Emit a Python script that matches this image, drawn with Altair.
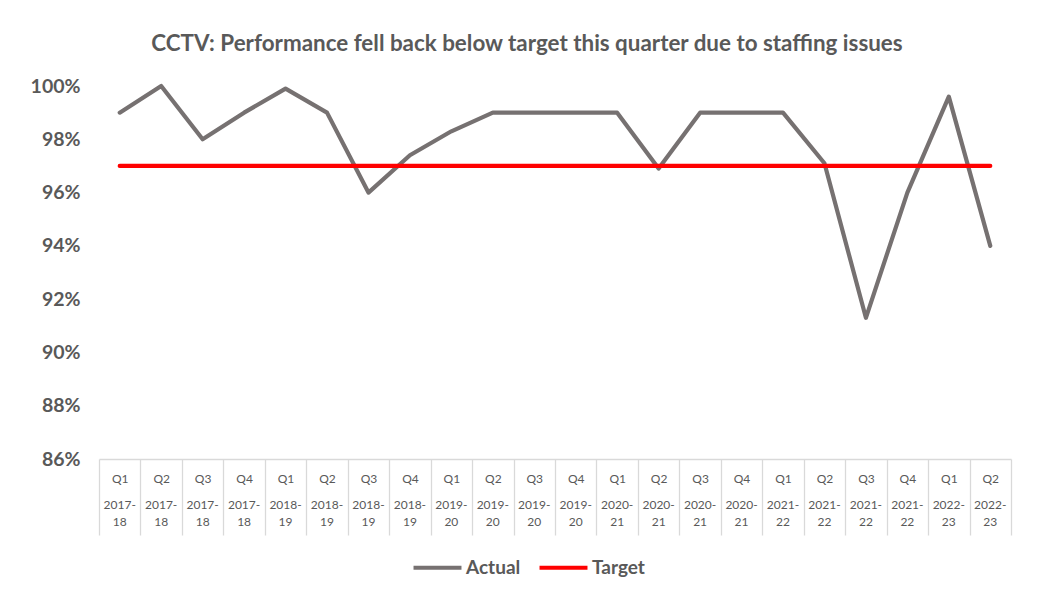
import altair as alt
import pandas as pd

quarters = ["Q1", "Q2", "Q3", "Q4", "Q1", "Q2", "Q3", "Q4", "Q1", "Q2", "Q3",
            "Q4", "Q1", "Q2", "Q3", "Q4", "Q1", "Q2", "Q3", "Q4", "Q1", "Q2"]
years = ["2017-18", "2017-18", "2017-18", "2017-18", "2018-19", "2018-19",
         "2018-19", "2018-19", "2019-20", "2019-20", "2019-20", "2019-20",
         "2020-21", "2020-21", "2020-21", "2020-21", "2021-22", "2021-22",
         "2021-22", "2021-22", "2022-23", "2022-23"]
actual = [0.990, 1.000, 0.980, 0.990, 0.999, 0.990, 0.960, 0.974, 0.983, 0.990,
          0.990, 0.990, 0.990, 0.969, 0.990, 0.990, 0.990, 0.971, 0.913, 0.960,
          0.996, 0.940]
target = [0.97] * 22

periods = [f"{q} {y}" for q, y in zip(quarters, years)]
rows = []
for p, a in zip(periods, actual):
    rows.append({"period": p, "series": "Actual", "value": a})
for p, t in zip(periods, target):
    rows.append({"period": p, "series": "Target", "value": t})
df = pd.DataFrame(rows)

FONT = "Lato"
GREY_TXT = "#595959"

q_expr = "isValid(datum.value) ? split(datum.value, ' ')[0] : ''"
y_expr = ("isValid(datum.value) ? [split(split(datum.value, ' ')[1], '-')[0] + '-', "
          "split(split(datum.value, ' ')[1], '-')[1]] : ''")

xscale = alt.Scale(paddingInner=0, paddingOuter=0)
yenc = alt.Y("value:Q", title=None,
             scale=alt.Scale(domain=[0.86, 1.0], nice=False, zero=False),
             axis=alt.Axis(format=".0%", values=[0.86, 0.88, 0.90, 0.92, 0.94, 0.96, 0.98, 1.0],
                           grid=False, domain=False, ticks=False, labelFont=FONT,
                           labelFontSize=19.5, labelFontWeight="bold", labelColor=GREY_TXT,
                           labelPadding=19))
cenc = alt.Color("series:N", title=None,
                 scale=alt.Scale(domain=["Actual", "Target"], range=["#767171", "#FF0000"]),
                 legend=alt.Legend(orient="none", legendX=312, legendY=455,
                                   direction="horizontal", symbolType="stroke",
                                   symbolStrokeWidth=4.2, symbolSize=2300,
                                   labelFont=FONT, labelFontSize=19,
                                   labelFontWeight="bold", labelColor=GREY_TXT,
                                   labelOffset=2, columnPadding=10))

base = alt.Chart(df).mark_line(strokeWidth=4.2, strokeCap="round", strokeJoin="round")

actual_layer = base.transform_filter(alt.datum.series == "Actual").encode(
    x=alt.X("period:N", sort=periods, title=None, scale=xscale,
            axis=alt.Axis(orient="bottom", labelAngle=0, labelExpr=q_expr, labelFont=FONT,
                          labelFontSize=12, labelColor=GREY_TXT,
                          labelBaseline="top", labelPadding=-62,
                          tickBand="extent", tickSize=76, tickColor="#d9d9d9",
                          tickWidth=1.3, domainColor="#d9d9d9", domainWidth=1.3)),
    y=yenc, color=cenc,
)

target_layer = base.transform_filter(alt.datum.series == "Target").encode(
    x=alt.X("period:N", sort=periods, title=None, scale=xscale,
            axis=alt.Axis(orient="bottom", labelAngle=0, labelExpr=y_expr, labelFont=FONT,
                          labelFontSize=12, labelColor=GREY_TXT, labelLineHeight=17,
                          labelBaseline="top", labelPadding=40,
                          ticks=False, tickSize=0, domain=False)),
    y=yenc, color=cenc,
)

chart = alt.layer(actual_layer, target_layer).resolve_axis(x="independent").properties(
    width=912, height=373,
    padding={"left": 91, "top": 78, "right": 12, "bottom": 125},
    autosize=alt.AutoSizeParams(type="none"),
    title=alt.TitleParams("CCTV: Performance fell back below target this quarter due to staffing issues",
                          font=FONT, fontSize=22.4, fontWeight="bold", color=GREY_TXT,
                          anchor="middle", offset=21, dx=-28),
).configure_view(stroke=None)

chart.save("out.html", embed_options={"renderer": "svg", "actions": False})
